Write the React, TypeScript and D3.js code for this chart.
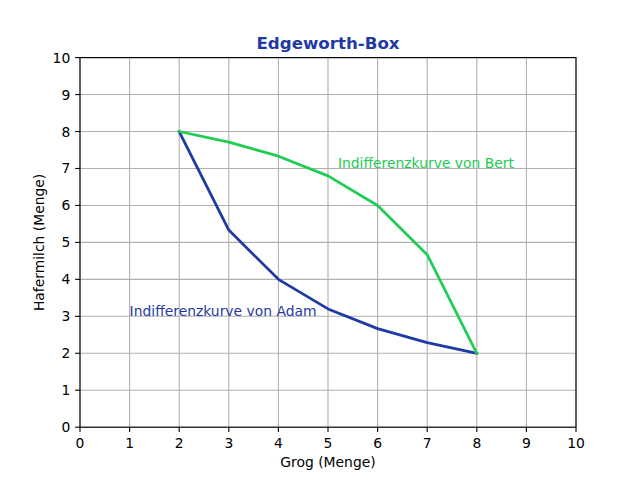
import React from "react";
import * as d3 from "d3";

const xTicks = [0, 1, 2, 3, 4, 5, 6, 7, 8, 9, 10];
const yTicks = [0, 1, 2, 3, 4, 5, 6, 7, 8, 9, 10];
const grogValues = [2, 3, 4, 5, 6, 7, 8];
const adamValues = [8, 5.333, 4, 3.2, 2.667, 2.286, 2];
const bertValues = [8, 7.714, 7.333, 6.8, 6, 4.667, 2];
const title = "Edgeworth-Box";
const xLabel = "Grog (Menge)";
const yLabel = "Hafermilch (Menge)";
const adamLabel = { text: "Indifferenzkurve von Adam", x: 1, y: 3 };
const bertLabel = { text: "Indifferenzkurve von Bert", x: 5.2, y: 7 };

const BLUE = "#1f3aa3";
const GREEN = "#22cc55";

export default function App() {
  const W = 640, H = 480;
  const L = 80, R = 576, T = 57.6, B = 427.2;
  const fs = 13.89;
  const tick = 4.86;
  const x = d3.scaleLinear().domain([0, 10]).range([L, R]);
  const y = d3.scaleLinear().domain([0, 10]).range([B, T]);
  const line = d3.line<[number, number]>().x(d => x(d[0])).y(d => y(d[1]));
  const adam = grogValues.map((g, i) => [g, adamValues[i]] as [number, number]);
  const bert = grogValues.map((g, i) => [g, bertValues[i]] as [number, number]);
  const font = "DejaVu Sans, sans-serif";
  return (
    <svg width={W} height={H} style={{ position: "absolute", left: 0, top: 0, background: "#fff" }} fontFamily={font}>
      <rect width={W} height={H} fill="#fff" />
      {xTicks.map(t => (
        <line key={"gx" + t} x1={x(t)} x2={x(t)} y1={T} y2={B} stroke="#b0b0b0" strokeWidth={1.1} />
      ))}
      {yTicks.map(t => (
        <line key={"gy" + t} x1={L} x2={R} y1={y(t)} y2={y(t)} stroke="#b0b0b0" strokeWidth={1.1} />
      ))}
      <path d={line(adam) || ""} fill="none" stroke={BLUE} strokeWidth={2.78} strokeLinejoin="round" strokeLinecap="square" />
      <path d={line(bert) || ""} fill="none" stroke={GREEN} strokeWidth={2.78} strokeLinejoin="round" strokeLinecap="square" />
      <rect x={L} y={T} width={R - L} height={B - T} fill="none" stroke="#000" strokeWidth={1.1} />
      {xTicks.map(t => (
        <g key={"tx" + t}>
          <line x1={x(t)} x2={x(t)} y1={B} y2={B + tick} stroke="#000" strokeWidth={1.1} />
          <text x={x(t)} y={B + 2 * tick + 10.6} textAnchor="middle" fontSize={fs} fill="#000">{t}</text>
        </g>
      ))}
      {yTicks.map(t => (
        <g key={"ty" + t}>
          <line x1={L - tick} x2={L} y1={y(t)} y2={y(t)} stroke="#000" strokeWidth={1.1} />
          <text x={L - 2 * tick} y={y(t) + 5} textAnchor="end" fontSize={fs} fill="#000">{t}</text>
        </g>
      ))}
      <text x={(L + R) / 2} y={467} textAnchor="middle" fontSize={fs} fill="#000">{xLabel}</text>
      <text transform={`translate(44,${(T + B) / 2}) rotate(-90)`} textAnchor="middle" fontSize={fs} fill="#000">{yLabel}</text>
      <text x={(L + R) / 2} y={49.3} textAnchor="middle" fontSize={16.67} fontWeight="bold" fill={BLUE}>{title}</text>
      <text x={x(adamLabel.x)} y={y(adamLabel.y)} fontSize={fs} fill={BLUE}>{adamLabel.text}</text>
      <text x={x(bertLabel.x)} y={y(bertLabel.y)} fontSize={fs} fill={GREEN}>{bertLabel.text}</text>
    </svg>
  );
}
